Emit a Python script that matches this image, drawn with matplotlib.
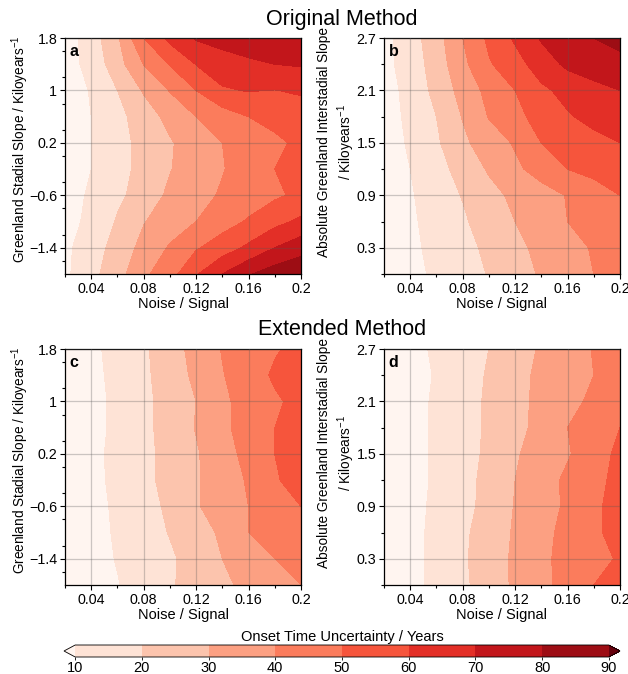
import numpy as np
import matplotlib
matplotlib.use("Agg")
import matplotlib.pyplot as plt
from matplotlib.colors import ListedColormap, BoundaryNorm
from matplotlib.ticker import FixedLocator, MultipleLocator, FuncFormatter

plt.rcParams['font.family'] = ['Liberation Sans', 'DejaVu Sans']
plt.rcParams['mathtext.fontset'] = 'custom'
plt.rcParams['mathtext.rm'] = 'Liberation Sans'
plt.rcParams['mathtext.it'] = 'Liberation Sans:italic'

# noise / signal grid (columns)
noise = [0.02, 0.04, 0.06, 0.08, 0.10, 0.12, 0.14, 0.16, 0.18, 0.20]
# stadial slope rows (top to bottom)
stadial_slope = [1.8, 1.4, 1.0, 0.6, 0.2, -0.2, -0.6, -1.0, -1.4, -1.8]
# interstadial slope rows (top to bottom)
inter_slope = [2.7, 2.4, 2.1, 1.8, 1.5, 1.2, 0.9, 0.6, 0.3, 0.0]

# onset uncertainty (years), panel a: original method, stadial slope
orig_stadial = [
    [5, 15, 28.6, 50, 62.7, 71, 74, 76, 77, 77],
    [6, 13, 26, 40.2, 50.5, 60.3, 65, 68, 70, 71],
    [6, 10.5, 20, 31, 40.5, 50, 59, 60.5, 59.8, 61],
    [6, 10, 17, 25, 33, 40, 45, 50, 53, 56],
    [6, 10, 16.5, 23, 29, 35, 40, 44, 48, 52],
    [6, 10, 16.5, 23, 29.5, 35, 39.5, 44, 50, 52],
    [7, 11, 18, 24, 32, 37, 41, 45, 48.5, 52],
    [7, 12, 21, 29.5, 35, 40, 46, 51, 57, 62],
    [8, 15, 24, 33, 41, 49, 55, 62, 70, 76],
    [8, 17, 26, 38, 46, 59, 70, 79, 85, 88],
]
# panel b: original method, interstadial slope
orig_inter = [
    [7, 15.5, 26, 40, 52, 61.5, 71, 75, 80, 83],
    [7, 14.5, 24.5, 37.5, 49, 56, 65, 72, 75, 77],
    [6, 13, 23, 33.5, 43, 50, 58, 63, 67, 70],
    [6, 12, 20, 30.5, 40.5, 47, 54, 59, 63, 66],
    [6, 11, 18.5, 28, 35, 41, 50, 54, 57, 60],
    [6, 10, 16, 24, 31, 38, 44, 50, 53, 56],
    [5, 9, 15, 20.5, 27, 32, 36, 40.5, 45, 50],
    [5, 8.5, 13.5, 18.5, 25, 30, 35, 40, 44, 47],
    [5, 8, 12.5, 17, 22, 28, 32, 36, 41, 45],
    [4, 7.5, 11.5, 16, 20.5, 26, 31, 35, 40, 44],
]
# panel c: extended method, stadial slope
ext_stadial = [
    [5, 8, 13, 18.5, 25.5, 33.5, 40.5, 45, 49, 53],
    [5, 7.5, 12.5, 18, 25, 32, 39.5, 45, 51.5, 55],
    [5, 7, 12, 17.5, 24, 30, 38, 44, 48.5, 53],
    [5, 7, 12, 17.5, 24, 30.5, 38, 44, 50, 54],
    [5, 7.5, 12.5, 17.5, 23, 29, 36, 43, 50, 54],
    [5, 7, 12.5, 17.5, 23, 29, 35, 41, 49, 54],
    [5, 7, 11.5, 16, 22, 29, 35, 40, 45, 50],
    [4.5, 7, 11, 15.5, 20.5, 26, 31.5, 40, 44, 48],
    [4.5, 6.5, 10.5, 15, 18.5, 24, 30, 35, 40, 45],
    [4, 6, 9.5, 14.5, 19, 23.5, 28, 32.5, 36, 40],
]
# panel d: extended method, interstadial slope
ext_inter = [
    [5, 8, 11, 15, 20, 26, 31, 35.5, 40.5, 45],
    [5, 7.5, 10.5, 15.5, 21, 27, 32, 36, 40, 45],
    [5, 7.5, 11, 16, 21.5, 27, 32.5, 37, 42, 47],
    [5, 7.5, 11, 16, 21.5, 27, 33, 40, 45, 50],
    [5, 7.5, 11, 16, 22, 29, 34, 39, 46, 52],
    [5, 7.5, 11, 16.5, 23, 30, 35.5, 42, 47, 53],
    [5, 7.5, 11.5, 17, 23, 30.5, 36, 41.5, 48, 54],
    [5, 7.5, 12, 18, 25, 31, 37, 43, 48, 54],
    [5, 7.5, 12, 18.5, 25.5, 31.5, 38, 43, 47, 51],
    [5, 7.5, 12, 18, 25, 31.5, 37, 44, 50, 54],
]

levels = [10, 20, 30, 40, 50, 60, 70, 80, 90]
x_ticks = [0.04, 0.08, 0.12, 0.16, 0.2]
stadial_ticks = [-1.4, -0.6, 0.2, 1.0, 1.8]
inter_ticks = [0.3, 0.9, 1.5, 2.1, 2.7]

# Reds sampled evenly: under colour, 8 bands, over colour
reds = plt.cm.Reds(np.linspace(0, 1, 10))
cmap = ListedColormap(reds[1:-1])
cmap.set_under(reds[0])
cmap.set_over(reds[-1])
norm = BoundaryNorm(levels, cmap.N)

W, H = 628, 674
fig = plt.figure(figsize=(W / 100, H / 100), dpi=100)


def fmt(v, pos):
    return ('%g' % round(v, 3)).replace('-', '\u2212')


def add_panel(left_px, top_px, yvals, zvals, yticks, ylim, yminor, ylabel, lab_x, lab_y, letter):
    ax = fig.add_axes([left_px / W, 1 - (top_px + 236) / H, 236 / W, 236 / H])
    cs = ax.contourf(noise, yvals, np.array(zvals), levels=levels,
                     cmap=cmap, norm=norm, extend='both')
    ax.set_xlim(0.02, 0.2)
    ax.set_ylim(*ylim)
    ax.xaxis.set_major_locator(FixedLocator(x_ticks))
    ax.xaxis.set_minor_locator(MultipleLocator(0.02))
    ax.yaxis.set_major_locator(FixedLocator(yticks))
    ax.yaxis.set_minor_locator(MultipleLocator(yminor))
    ax.xaxis.set_major_formatter(FuncFormatter(fmt))
    ax.yaxis.set_major_formatter(FuncFormatter(fmt))
    ax.tick_params(which='major', length=3.5, width=0.8, labelsize=10.3, pad=2)
    ax.tick_params(which='minor', length=2, width=0.8)
    ax.grid(True, which='major', color='#555555', alpha=0.3, linewidth=0.9)
    ax.set_axisbelow(False)
    for s in ax.spines.values():
        s.set_linewidth(0.9)
    ax.set_xlabel('Noise / Signal', fontsize=10.5, labelpad=1)
    ax.set_ylabel(ylabel, fontsize=9.8, linespacing=1.25)
    ax.yaxis.set_label_coords(lab_x, lab_y)
    ax.text(0.02, 0.975, letter, transform=ax.transAxes, ha='left', va='top',
            fontsize=11.5, fontweight='bold')
    return cs


ylab_a = 'Greenland Stadial Slope / Kiloyears$^{-1}$'
ylab_b = 'Absolute Greenland Interstadial Slope\n/ Kiloyears$^{-1}$'

add_panel(65, 38, stadial_slope, orig_stadial, stadial_ticks, (-1.8, 1.8), 0.4,
          ylab_a, -0.145, 0.53, 'a')
add_panel(384, 38, inter_slope, orig_inter, inter_ticks, (0, 2.7), 0.3,
          ylab_b, -0.115, 0.56, 'b')
add_panel(65, 349, stadial_slope, ext_stadial, stadial_ticks, (-1.8, 1.8), 0.4,
          ylab_a, -0.145, 0.53, 'c')
cs = add_panel(384, 349, inter_slope, ext_inter, inter_ticks, (0, 2.7), 0.3,
               ylab_b, -0.115, 0.56, 'd')

fig.text(342 / W, 1 - 19 / H, 'Original Method', ha='center', va='center', fontsize=15.5)
fig.text(342 / W, 1 - 330 / H, 'Extended Method', ha='center', va='center', fontsize=15.5)

cax = fig.add_axes([64 / W, 1 - 657 / H, 556 / W, 12 / H])
cb = fig.colorbar(cs, cax=cax, orientation='horizontal', extendfrac=0.021, ticks=levels)
cb.outline.set_linewidth(0.6)
cb.ax.tick_params(length=2, width=0.6, labelsize=10.5, pad=1)
cb.ax.xaxis.set_label_position('top')
cb.set_label('Onset Time Uncertainty / Years', fontsize=10.5, labelpad=3)

fig.savefig('out.png', dpi=100)
